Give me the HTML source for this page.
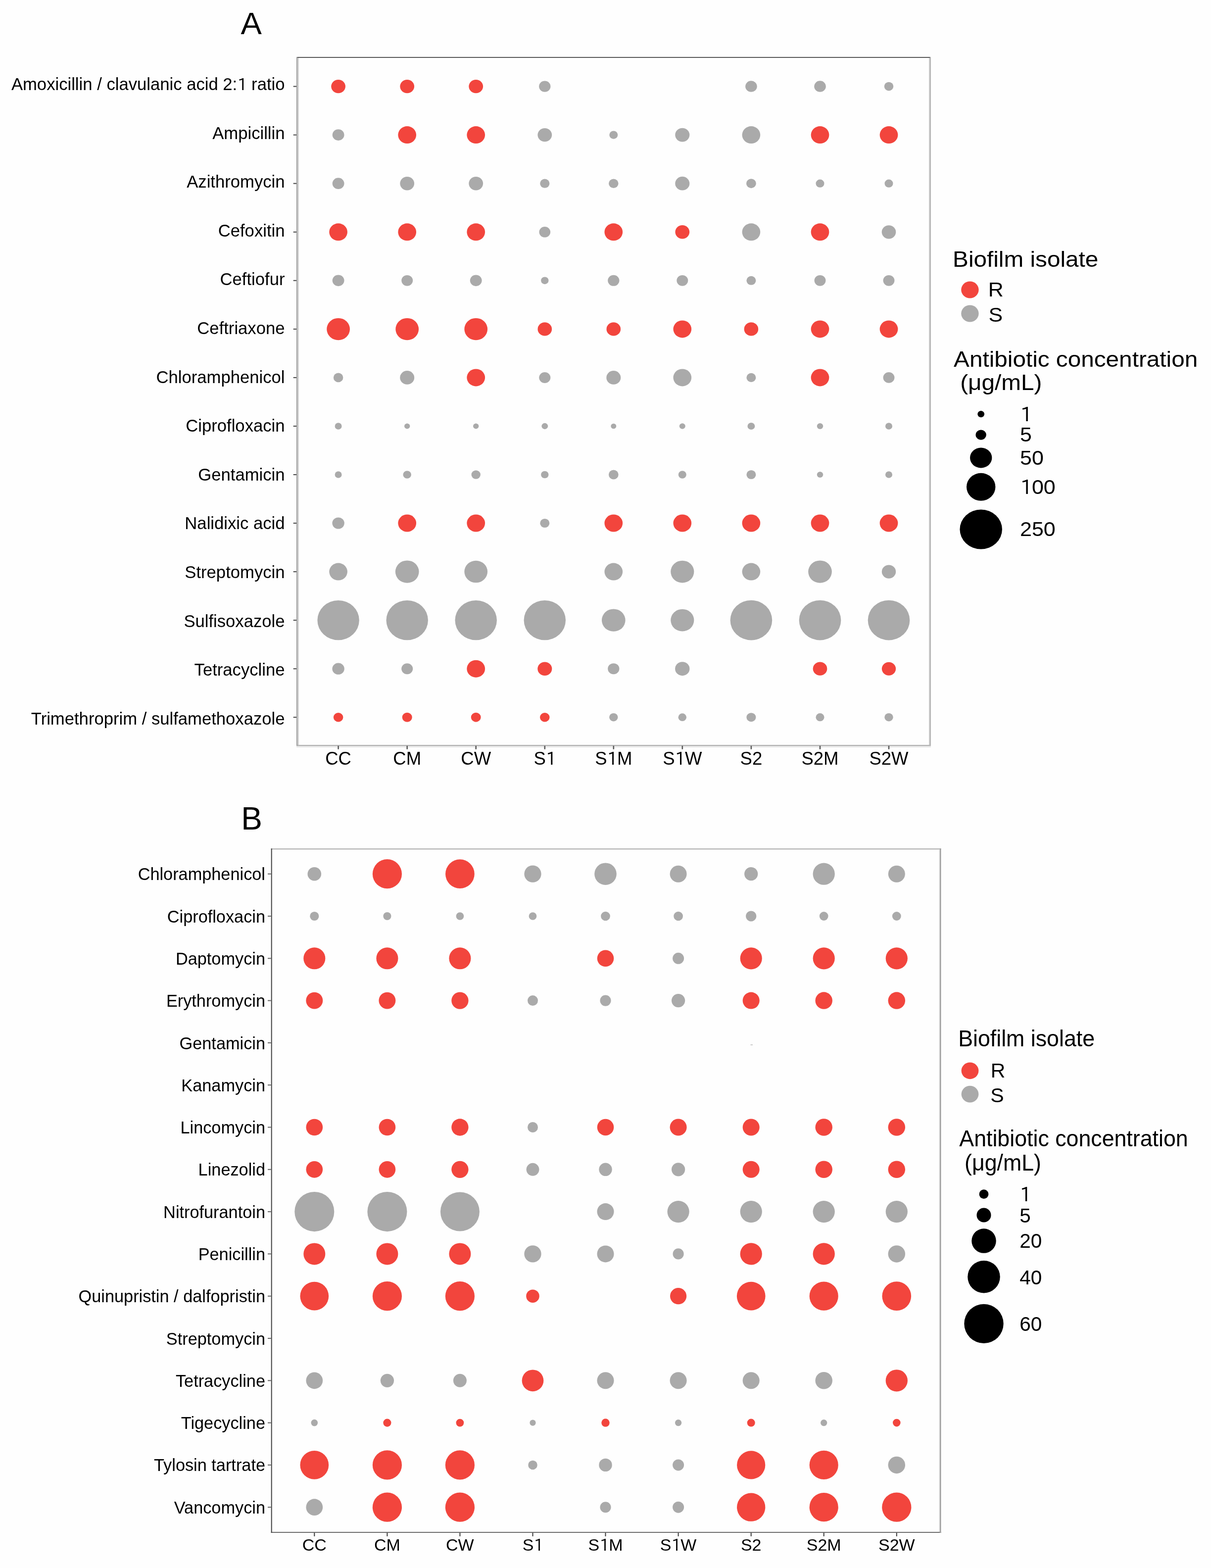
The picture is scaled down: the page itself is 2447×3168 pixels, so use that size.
<!DOCTYPE html>
<html><head><meta charset="utf-8"><title>Antibiotic concentration dot plot</title>
<style>
html,body{margin:0;padding:0;background:#fefefe;}
svg{display:block;}
text{font-family:"Liberation Sans",Arial,sans-serif;fill:#000;}
</style></head>
<body>
<svg width="2447" height="3168" viewBox="0 0 2447 3168">
<rect width="2447" height="3168" fill="#fefefe"/>
<ellipse cx="683.6" cy="174.6" rx="14.39" ry="13.71" fill="#F2453D"/>
<ellipse cx="822.7" cy="174.6" rx="14.39" ry="13.71" fill="#F2453D"/>
<ellipse cx="961.7" cy="174.6" rx="14.39" ry="13.71" fill="#F2453D"/>
<ellipse cx="1100.8" cy="174.6" rx="11.67" ry="11.12" fill="#AAAAAA"/>
<ellipse cx="1517.9" cy="174.6" rx="11.81" ry="11.25" fill="#AAAAAA"/>
<ellipse cx="1657.0" cy="174.6" rx="11.81" ry="11.25" fill="#AAAAAA"/>
<ellipse cx="1796.0" cy="174.6" rx="9.25" ry="8.81" fill="#AAAAAA"/>
<ellipse cx="683.6" cy="272.6" rx="11.91" ry="11.34" fill="#AAAAAA"/>
<ellipse cx="822.7" cy="272.6" rx="18.36" ry="17.48" fill="#F2453D"/>
<ellipse cx="961.7" cy="272.6" rx="18.36" ry="17.48" fill="#F2453D"/>
<ellipse cx="1100.8" cy="272.6" rx="14.39" ry="13.71" fill="#AAAAAA"/>
<ellipse cx="1239.8" cy="272.6" rx="8.50" ry="8.10" fill="#AAAAAA"/>
<ellipse cx="1378.8" cy="272.6" rx="14.54" ry="13.84" fill="#AAAAAA"/>
<ellipse cx="1517.9" cy="272.6" rx="18.36" ry="17.48" fill="#AAAAAA"/>
<ellipse cx="1657.0" cy="272.6" rx="18.36" ry="17.48" fill="#F2453D"/>
<ellipse cx="1796.0" cy="272.6" rx="18.36" ry="17.48" fill="#F2453D"/>
<ellipse cx="683.6" cy="370.7" rx="11.91" ry="11.34" fill="#AAAAAA"/>
<ellipse cx="822.7" cy="370.7" rx="14.39" ry="13.71" fill="#AAAAAA"/>
<ellipse cx="961.7" cy="370.7" rx="14.39" ry="13.71" fill="#AAAAAA"/>
<ellipse cx="1100.8" cy="370.7" rx="9.60" ry="9.14" fill="#AAAAAA"/>
<ellipse cx="1239.8" cy="370.7" rx="9.75" ry="9.29" fill="#AAAAAA"/>
<ellipse cx="1378.8" cy="370.7" rx="14.54" ry="13.84" fill="#AAAAAA"/>
<ellipse cx="1517.9" cy="370.7" rx="9.90" ry="9.43" fill="#AAAAAA"/>
<ellipse cx="1657.0" cy="370.7" rx="8.50" ry="8.10" fill="#AAAAAA"/>
<ellipse cx="1796.0" cy="370.7" rx="8.50" ry="8.10" fill="#AAAAAA"/>
<ellipse cx="683.6" cy="468.8" rx="18.36" ry="17.48" fill="#F2453D"/>
<ellipse cx="822.7" cy="468.8" rx="18.36" ry="17.48" fill="#F2453D"/>
<ellipse cx="961.7" cy="468.8" rx="18.36" ry="17.48" fill="#F2453D"/>
<ellipse cx="1100.8" cy="468.8" rx="11.34" ry="10.80" fill="#AAAAAA"/>
<ellipse cx="1239.8" cy="468.8" rx="18.36" ry="17.48" fill="#F2453D"/>
<ellipse cx="1378.8" cy="468.8" rx="14.39" ry="13.71" fill="#F2453D"/>
<ellipse cx="1517.9" cy="468.8" rx="18.36" ry="17.48" fill="#AAAAAA"/>
<ellipse cx="1657.0" cy="468.8" rx="18.36" ry="17.48" fill="#F2453D"/>
<ellipse cx="1796.0" cy="468.8" rx="14.30" ry="13.62" fill="#AAAAAA"/>
<ellipse cx="683.6" cy="566.8" rx="11.91" ry="11.34" fill="#AAAAAA"/>
<ellipse cx="822.7" cy="566.8" rx="11.43" ry="10.89" fill="#AAAAAA"/>
<ellipse cx="961.7" cy="566.8" rx="11.91" ry="11.34" fill="#AAAAAA"/>
<ellipse cx="1100.8" cy="566.8" rx="7.70" ry="7.33" fill="#AAAAAA"/>
<ellipse cx="1239.8" cy="566.8" rx="11.62" ry="11.07" fill="#AAAAAA"/>
<ellipse cx="1378.8" cy="566.8" rx="11.43" ry="10.89" fill="#AAAAAA"/>
<ellipse cx="1517.9" cy="566.8" rx="9.50" ry="9.05" fill="#AAAAAA"/>
<ellipse cx="1657.0" cy="566.8" rx="11.43" ry="10.89" fill="#AAAAAA"/>
<ellipse cx="1796.0" cy="566.8" rx="11.43" ry="10.89" fill="#AAAAAA"/>
<ellipse cx="683.6" cy="664.9" rx="23.37" ry="22.26" fill="#F2453D"/>
<ellipse cx="822.7" cy="664.9" rx="23.37" ry="22.26" fill="#F2453D"/>
<ellipse cx="961.7" cy="664.9" rx="23.37" ry="22.26" fill="#F2453D"/>
<ellipse cx="1100.8" cy="664.9" rx="14.30" ry="13.62" fill="#F2453D"/>
<ellipse cx="1239.8" cy="664.9" rx="14.30" ry="13.62" fill="#F2453D"/>
<ellipse cx="1378.8" cy="664.9" rx="18.36" ry="17.48" fill="#F2453D"/>
<ellipse cx="1517.9" cy="664.9" rx="14.30" ry="13.62" fill="#F2453D"/>
<ellipse cx="1657.0" cy="664.9" rx="18.36" ry="17.48" fill="#F2453D"/>
<ellipse cx="1796.0" cy="664.9" rx="18.36" ry="17.48" fill="#F2453D"/>
<ellipse cx="683.6" cy="762.9" rx="9.75" ry="9.29" fill="#AAAAAA"/>
<ellipse cx="822.7" cy="762.9" rx="14.49" ry="13.80" fill="#AAAAAA"/>
<ellipse cx="961.7" cy="762.9" rx="18.36" ry="17.48" fill="#F2453D"/>
<ellipse cx="1100.8" cy="762.9" rx="11.53" ry="10.98" fill="#AAAAAA"/>
<ellipse cx="1239.8" cy="762.9" rx="14.49" ry="13.80" fill="#AAAAAA"/>
<ellipse cx="1378.8" cy="762.9" rx="18.36" ry="17.48" fill="#AAAAAA"/>
<ellipse cx="1517.9" cy="762.9" rx="9.50" ry="9.05" fill="#AAAAAA"/>
<ellipse cx="1657.0" cy="762.9" rx="18.36" ry="17.48" fill="#F2453D"/>
<ellipse cx="1796.0" cy="762.9" rx="11.43" ry="10.89" fill="#AAAAAA"/>
<ellipse cx="683.6" cy="861.0" rx="7.00" ry="6.67" fill="#AAAAAA"/>
<ellipse cx="822.7" cy="861.0" rx="5.70" ry="5.43" fill="#AAAAAA"/>
<ellipse cx="961.7" cy="861.0" rx="5.70" ry="5.43" fill="#AAAAAA"/>
<ellipse cx="1100.8" cy="861.0" rx="6.45" ry="6.14" fill="#AAAAAA"/>
<ellipse cx="1239.8" cy="861.0" rx="5.50" ry="5.24" fill="#AAAAAA"/>
<ellipse cx="1378.8" cy="861.0" rx="6.05" ry="5.76" fill="#AAAAAA"/>
<ellipse cx="1517.9" cy="861.0" rx="7.45" ry="7.10" fill="#AAAAAA"/>
<ellipse cx="1657.0" cy="861.0" rx="6.25" ry="5.95" fill="#AAAAAA"/>
<ellipse cx="1796.0" cy="861.0" rx="7.05" ry="6.71" fill="#AAAAAA"/>
<ellipse cx="683.6" cy="959.0" rx="7.00" ry="6.67" fill="#AAAAAA"/>
<ellipse cx="822.7" cy="959.0" rx="8.25" ry="7.86" fill="#AAAAAA"/>
<ellipse cx="961.7" cy="959.0" rx="9.20" ry="8.76" fill="#AAAAAA"/>
<ellipse cx="1100.8" cy="959.0" rx="7.70" ry="7.33" fill="#AAAAAA"/>
<ellipse cx="1239.8" cy="959.0" rx="9.85" ry="9.38" fill="#AAAAAA"/>
<ellipse cx="1378.8" cy="959.0" rx="8.05" ry="7.67" fill="#AAAAAA"/>
<ellipse cx="1517.9" cy="959.0" rx="9.50" ry="9.05" fill="#AAAAAA"/>
<ellipse cx="1657.0" cy="959.0" rx="6.25" ry="5.95" fill="#AAAAAA"/>
<ellipse cx="1796.0" cy="959.0" rx="7.05" ry="6.71" fill="#AAAAAA"/>
<ellipse cx="683.6" cy="1057.0" rx="12.20" ry="11.62" fill="#AAAAAA"/>
<ellipse cx="822.7" cy="1057.0" rx="18.36" ry="17.48" fill="#F2453D"/>
<ellipse cx="961.7" cy="1057.0" rx="18.36" ry="17.48" fill="#F2453D"/>
<ellipse cx="1100.8" cy="1057.0" rx="9.55" ry="9.10" fill="#AAAAAA"/>
<ellipse cx="1239.8" cy="1057.0" rx="18.36" ry="17.48" fill="#F2453D"/>
<ellipse cx="1378.8" cy="1057.0" rx="18.36" ry="17.48" fill="#F2453D"/>
<ellipse cx="1517.9" cy="1057.0" rx="18.36" ry="17.48" fill="#F2453D"/>
<ellipse cx="1657.0" cy="1057.0" rx="18.36" ry="17.48" fill="#F2453D"/>
<ellipse cx="1796.0" cy="1057.0" rx="18.36" ry="17.48" fill="#F2453D"/>
<ellipse cx="683.6" cy="1155.1" rx="18.36" ry="17.48" fill="#AAAAAA"/>
<ellipse cx="822.7" cy="1155.1" rx="23.85" ry="22.71" fill="#AAAAAA"/>
<ellipse cx="961.7" cy="1155.1" rx="23.37" ry="22.26" fill="#AAAAAA"/>
<ellipse cx="1239.8" cy="1155.1" rx="18.36" ry="17.48" fill="#AAAAAA"/>
<ellipse cx="1378.8" cy="1155.1" rx="23.56" ry="22.44" fill="#AAAAAA"/>
<ellipse cx="1517.9" cy="1155.1" rx="18.36" ry="17.48" fill="#AAAAAA"/>
<ellipse cx="1657.0" cy="1155.1" rx="23.85" ry="22.71" fill="#AAAAAA"/>
<ellipse cx="1796.0" cy="1155.1" rx="14.20" ry="13.53" fill="#AAAAAA"/>
<ellipse cx="683.6" cy="1253.1" rx="42.23" ry="40.22" fill="#AAAAAA"/>
<ellipse cx="822.7" cy="1253.1" rx="42.23" ry="40.22" fill="#AAAAAA"/>
<ellipse cx="961.7" cy="1253.1" rx="42.23" ry="40.22" fill="#AAAAAA"/>
<ellipse cx="1100.8" cy="1253.1" rx="42.23" ry="40.22" fill="#AAAAAA"/>
<ellipse cx="1239.8" cy="1253.1" rx="23.85" ry="22.71" fill="#AAAAAA"/>
<ellipse cx="1378.8" cy="1253.1" rx="23.56" ry="22.44" fill="#AAAAAA"/>
<ellipse cx="1517.9" cy="1253.1" rx="42.33" ry="40.31" fill="#AAAAAA"/>
<ellipse cx="1657.0" cy="1253.1" rx="42.33" ry="40.31" fill="#AAAAAA"/>
<ellipse cx="1796.0" cy="1253.1" rx="42.33" ry="40.31" fill="#AAAAAA"/>
<ellipse cx="683.6" cy="1351.2" rx="12.20" ry="11.62" fill="#AAAAAA"/>
<ellipse cx="822.7" cy="1351.2" rx="11.53" ry="10.98" fill="#AAAAAA"/>
<ellipse cx="961.7" cy="1351.2" rx="18.36" ry="17.48" fill="#F2453D"/>
<ellipse cx="1100.8" cy="1351.2" rx="14.49" ry="13.80" fill="#F2453D"/>
<ellipse cx="1239.8" cy="1351.2" rx="11.62" ry="11.07" fill="#AAAAAA"/>
<ellipse cx="1378.8" cy="1351.2" rx="14.68" ry="13.98" fill="#AAAAAA"/>
<ellipse cx="1657.0" cy="1351.2" rx="14.30" ry="13.62" fill="#F2453D"/>
<ellipse cx="1796.0" cy="1351.2" rx="14.11" ry="13.43" fill="#F2453D"/>
<ellipse cx="683.6" cy="1449.2" rx="9.75" ry="9.29" fill="#F2453D"/>
<ellipse cx="822.7" cy="1449.2" rx="10.00" ry="9.52" fill="#F2453D"/>
<ellipse cx="961.7" cy="1449.2" rx="9.90" ry="9.43" fill="#F2453D"/>
<ellipse cx="1100.8" cy="1449.2" rx="9.75" ry="9.29" fill="#F2453D"/>
<ellipse cx="1239.8" cy="1449.2" rx="8.65" ry="8.24" fill="#AAAAAA"/>
<ellipse cx="1378.8" cy="1449.2" rx="8.25" ry="7.86" fill="#AAAAAA"/>
<ellipse cx="1517.9" cy="1449.2" rx="9.50" ry="9.05" fill="#AAAAAA"/>
<ellipse cx="1657.0" cy="1449.2" rx="8.50" ry="8.10" fill="#AAAAAA"/>
<ellipse cx="1796.0" cy="1449.2" rx="8.65" ry="8.24" fill="#AAAAAA"/>
<rect x="599" y="115" width="1282" height="2" fill="#5c5c5c"/>
<rect x="599" y="1505" width="1282" height="2" fill="#b0b0b0"/>
<rect x="599" y="1507" width="1282" height="3" fill="#e6e6e6"/>
<rect x="599" y="115" width="2" height="1392" fill="#9e9e9e"/>
<rect x="601" y="117" width="3" height="1388" fill="#d4d4d4"/>
<rect x="1877" y="117" width="2" height="1388" fill="#cdcdcd"/>
<rect x="1879" y="115" width="2" height="1392" fill="#b5b5b5"/>
<rect x="592.7" y="173.6" width="6.3" height="2" fill="#484848"/>
<text x="575.5" y="182.0" font-size="34.65" text-anchor="end">Amoxicillin / clavulanic acid 2:<tspan font-family="IPAPGothic,IPAGothic,'Liberation Sans',sans-serif" font-size="32.22" dx="0.42">1</tspan><tspan dx="-1.44"> ratio</tspan></text>
<rect x="592.7" y="271.6" width="6.3" height="2" fill="#484848"/>
<text x="575.5" y="280.6" font-size="34.65" text-anchor="end">Ampicillin</text>
<rect x="592.7" y="369.7" width="6.3" height="2" fill="#484848"/>
<text x="575.5" y="379.2" font-size="34.65" text-anchor="end">Azithromycin</text>
<rect x="592.7" y="467.8" width="6.3" height="2" fill="#484848"/>
<text x="575.5" y="477.8" font-size="34.65" text-anchor="end">Cefoxitin</text>
<rect x="592.7" y="565.8" width="6.3" height="2" fill="#484848"/>
<text x="575.5" y="576.4" font-size="34.65" text-anchor="end">Ceftiofur</text>
<rect x="592.7" y="663.9" width="6.3" height="2" fill="#484848"/>
<text x="575.5" y="675.0" font-size="34.65" text-anchor="end">Ceftriaxone</text>
<rect x="592.7" y="761.9" width="6.3" height="2" fill="#484848"/>
<text x="575.5" y="773.6" font-size="34.65" text-anchor="end">Chloramphenicol</text>
<rect x="592.7" y="860.0" width="6.3" height="2" fill="#484848"/>
<text x="575.5" y="872.2" font-size="34.65" text-anchor="end">Ciprofloxacin</text>
<rect x="592.7" y="958.0" width="6.3" height="2" fill="#484848"/>
<text x="575.5" y="970.8" font-size="34.65" text-anchor="end">Gentamicin</text>
<rect x="592.7" y="1056.0" width="6.3" height="2" fill="#484848"/>
<text x="575.5" y="1069.4" font-size="34.65" text-anchor="end">Nalidixic acid</text>
<rect x="592.7" y="1154.1" width="6.3" height="2" fill="#484848"/>
<text x="575.5" y="1168.0" font-size="34.65" text-anchor="end">Streptomycin</text>
<rect x="592.7" y="1252.1" width="6.3" height="2" fill="#484848"/>
<text x="575.5" y="1266.6" font-size="34.65" text-anchor="end">Sulfisoxazole</text>
<rect x="592.7" y="1350.2" width="6.3" height="2" fill="#484848"/>
<text x="575.5" y="1365.2" font-size="34.65" text-anchor="end">Tetracycline</text>
<rect x="592.7" y="1448.2" width="6.3" height="2" fill="#484848"/>
<text x="575.5" y="1463.8" font-size="34.65" text-anchor="end">Trimethroprim / sulfamethoxazole</text>
<rect x="682.3" y="1507" width="2.6" height="6.8" fill="#5a5a5a"/>
<text x="683.6" y="1545.2" font-size="36.5" text-anchor="middle">CC</text>
<rect x="821.4" y="1507" width="2.6" height="6.8" fill="#5a5a5a"/>
<text x="822.7" y="1545.2" font-size="36.5" text-anchor="middle">CM</text>
<rect x="960.4" y="1507" width="2.6" height="6.8" fill="#5a5a5a"/>
<text x="961.7" y="1545.2" font-size="36.5" text-anchor="middle">CW</text>
<rect x="1099.5" y="1507" width="2.6" height="6.8" fill="#5a5a5a"/>
<text x="1101.5" y="1545.2" font-size="36.5" text-anchor="middle">S<tspan font-family="IPAPGothic,IPAGothic,'Liberation Sans',sans-serif" font-size="33.95" dx="0.44">1</tspan></text>
<rect x="1238.5" y="1507" width="2.6" height="6.8" fill="#5a5a5a"/>
<text x="1239.8" y="1545.2" font-size="36.5" text-anchor="middle">S<tspan font-family="IPAPGothic,IPAGothic,'Liberation Sans',sans-serif" font-size="33.95" dx="0.44">1</tspan><tspan dx="-1.52">M</tspan></text>
<rect x="1377.5" y="1507" width="2.6" height="6.8" fill="#5a5a5a"/>
<text x="1378.8" y="1545.2" font-size="36.5" text-anchor="middle">S<tspan font-family="IPAPGothic,IPAGothic,'Liberation Sans',sans-serif" font-size="33.95" dx="0.44">1</tspan><tspan dx="-1.52">W</tspan></text>
<rect x="1516.6" y="1507" width="2.6" height="6.8" fill="#5a5a5a"/>
<text x="1517.9" y="1545.2" font-size="36.5" text-anchor="middle">S2</text>
<rect x="1655.7" y="1507" width="2.6" height="6.8" fill="#5a5a5a"/>
<text x="1657.0" y="1545.2" font-size="36.5" text-anchor="middle">S2M</text>
<rect x="1794.7" y="1507" width="2.6" height="6.8" fill="#5a5a5a"/>
<text x="1796.0" y="1545.2" font-size="36.5" text-anchor="middle">S2W</text>
<ellipse cx="635.3" cy="1765.7" rx="13.82" ry="13.82" fill="#AAAAAA"/>
<ellipse cx="782.4" cy="1765.7" rx="29.58" ry="29.58" fill="#F2453D"/>
<ellipse cx="929.4" cy="1765.7" rx="29.34" ry="29.34" fill="#F2453D"/>
<ellipse cx="1076.5" cy="1765.7" rx="17.16" ry="17.16" fill="#AAAAAA"/>
<ellipse cx="1223.5" cy="1765.7" rx="22.32" ry="22.32" fill="#AAAAAA"/>
<ellipse cx="1370.6" cy="1765.7" rx="17.02" ry="17.02" fill="#AAAAAA"/>
<ellipse cx="1517.7" cy="1765.7" rx="13.63" ry="13.63" fill="#AAAAAA"/>
<ellipse cx="1664.7" cy="1765.7" rx="22.13" ry="22.13" fill="#AAAAAA"/>
<ellipse cx="1811.8" cy="1765.7" rx="17.02" ry="17.02" fill="#AAAAAA"/>
<ellipse cx="635.3" cy="1851.0" rx="9.10" ry="9.10" fill="#AAAAAA"/>
<ellipse cx="782.4" cy="1851.0" rx="8.05" ry="8.05" fill="#AAAAAA"/>
<ellipse cx="929.4" cy="1851.0" rx="7.85" ry="7.85" fill="#AAAAAA"/>
<ellipse cx="1076.5" cy="1851.0" rx="7.85" ry="7.85" fill="#AAAAAA"/>
<ellipse cx="1223.5" cy="1851.0" rx="9.35" ry="9.35" fill="#AAAAAA"/>
<ellipse cx="1370.6" cy="1851.0" rx="9.35" ry="9.35" fill="#AAAAAA"/>
<ellipse cx="1517.7" cy="1851.0" rx="10.62" ry="10.62" fill="#AAAAAA"/>
<ellipse cx="1664.7" cy="1851.0" rx="8.90" ry="8.90" fill="#AAAAAA"/>
<ellipse cx="1811.8" cy="1851.0" rx="8.90" ry="8.90" fill="#AAAAAA"/>
<ellipse cx="635.3" cy="1936.3" rx="22.03" ry="22.03" fill="#F2453D"/>
<ellipse cx="782.4" cy="1936.3" rx="22.03" ry="22.03" fill="#F2453D"/>
<ellipse cx="929.4" cy="1936.3" rx="22.03" ry="22.03" fill="#F2453D"/>
<ellipse cx="1223.5" cy="1936.3" rx="16.78" ry="16.78" fill="#F2453D"/>
<ellipse cx="1370.6" cy="1936.3" rx="11.48" ry="11.48" fill="#AAAAAA"/>
<ellipse cx="1517.7" cy="1936.3" rx="22.08" ry="22.08" fill="#F2453D"/>
<ellipse cx="1664.7" cy="1936.3" rx="22.08" ry="22.08" fill="#F2453D"/>
<ellipse cx="1811.8" cy="1936.3" rx="22.08" ry="22.08" fill="#F2453D"/>
<ellipse cx="635.3" cy="2021.6" rx="16.97" ry="16.97" fill="#F2453D"/>
<ellipse cx="782.4" cy="2021.6" rx="16.97" ry="16.97" fill="#F2453D"/>
<ellipse cx="929.4" cy="2021.6" rx="17.16" ry="17.16" fill="#F2453D"/>
<ellipse cx="1076.5" cy="2021.6" rx="10.48" ry="10.48" fill="#AAAAAA"/>
<ellipse cx="1223.5" cy="2021.6" rx="11.05" ry="11.05" fill="#AAAAAA"/>
<ellipse cx="1370.6" cy="2021.6" rx="13.63" ry="13.63" fill="#AAAAAA"/>
<ellipse cx="1517.7" cy="2021.6" rx="17.02" ry="17.02" fill="#F2453D"/>
<ellipse cx="1664.7" cy="2021.6" rx="17.26" ry="17.26" fill="#F2453D"/>
<ellipse cx="1811.8" cy="2021.6" rx="17.26" ry="17.26" fill="#F2453D"/>
<ellipse cx="635.3" cy="2277.5" rx="16.83" ry="16.83" fill="#F2453D"/>
<ellipse cx="782.4" cy="2277.5" rx="16.83" ry="16.83" fill="#F2453D"/>
<ellipse cx="929.4" cy="2277.5" rx="17.16" ry="17.16" fill="#F2453D"/>
<ellipse cx="1076.5" cy="2277.5" rx="10.48" ry="10.48" fill="#AAAAAA"/>
<ellipse cx="1223.5" cy="2277.5" rx="16.78" ry="16.78" fill="#F2453D"/>
<ellipse cx="1370.6" cy="2277.5" rx="17.02" ry="17.02" fill="#F2453D"/>
<ellipse cx="1517.7" cy="2277.5" rx="17.02" ry="17.02" fill="#F2453D"/>
<ellipse cx="1664.7" cy="2277.5" rx="17.26" ry="17.26" fill="#F2453D"/>
<ellipse cx="1811.8" cy="2277.5" rx="17.26" ry="17.26" fill="#F2453D"/>
<ellipse cx="635.3" cy="2362.8" rx="16.83" ry="16.83" fill="#F2453D"/>
<ellipse cx="782.4" cy="2362.8" rx="16.83" ry="16.83" fill="#F2453D"/>
<ellipse cx="929.4" cy="2362.8" rx="17.16" ry="17.16" fill="#F2453D"/>
<ellipse cx="1076.5" cy="2362.8" rx="12.96" ry="12.96" fill="#AAAAAA"/>
<ellipse cx="1223.5" cy="2362.8" rx="13.20" ry="13.20" fill="#AAAAAA"/>
<ellipse cx="1370.6" cy="2362.8" rx="13.63" ry="13.63" fill="#AAAAAA"/>
<ellipse cx="1517.7" cy="2362.8" rx="17.02" ry="17.02" fill="#F2453D"/>
<ellipse cx="1664.7" cy="2362.8" rx="17.26" ry="17.26" fill="#F2453D"/>
<ellipse cx="1811.8" cy="2362.8" rx="17.26" ry="17.26" fill="#F2453D"/>
<ellipse cx="635.3" cy="2448.1" rx="40.03" ry="40.03" fill="#AAAAAA"/>
<ellipse cx="782.4" cy="2448.1" rx="40.03" ry="40.03" fill="#AAAAAA"/>
<ellipse cx="929.4" cy="2448.1" rx="39.51" ry="39.51" fill="#AAAAAA"/>
<ellipse cx="1223.5" cy="2448.1" rx="17.02" ry="17.02" fill="#AAAAAA"/>
<ellipse cx="1370.6" cy="2448.1" rx="22.13" ry="22.13" fill="#AAAAAA"/>
<ellipse cx="1517.7" cy="2448.1" rx="22.13" ry="22.13" fill="#AAAAAA"/>
<ellipse cx="1664.7" cy="2448.1" rx="22.13" ry="22.13" fill="#AAAAAA"/>
<ellipse cx="1811.8" cy="2448.1" rx="22.13" ry="22.13" fill="#AAAAAA"/>
<ellipse cx="635.3" cy="2533.4" rx="21.99" ry="21.99" fill="#F2453D"/>
<ellipse cx="782.4" cy="2533.4" rx="21.99" ry="21.99" fill="#F2453D"/>
<ellipse cx="929.4" cy="2533.4" rx="21.99" ry="21.99" fill="#F2453D"/>
<ellipse cx="1076.5" cy="2533.4" rx="17.16" ry="17.16" fill="#AAAAAA"/>
<ellipse cx="1223.5" cy="2533.4" rx="17.02" ry="17.02" fill="#AAAAAA"/>
<ellipse cx="1370.6" cy="2533.4" rx="11.05" ry="11.05" fill="#AAAAAA"/>
<ellipse cx="1517.7" cy="2533.4" rx="22.13" ry="22.13" fill="#F2453D"/>
<ellipse cx="1664.7" cy="2533.4" rx="22.13" ry="22.13" fill="#F2453D"/>
<ellipse cx="1811.8" cy="2533.4" rx="17.26" ry="17.26" fill="#AAAAAA"/>
<ellipse cx="635.3" cy="2618.7" rx="28.86" ry="28.86" fill="#F2453D"/>
<ellipse cx="782.4" cy="2618.7" rx="29.58" ry="29.58" fill="#F2453D"/>
<ellipse cx="929.4" cy="2618.7" rx="29.58" ry="29.58" fill="#F2453D"/>
<ellipse cx="1076.5" cy="2618.7" rx="13.29" ry="13.29" fill="#F2453D"/>
<ellipse cx="1370.6" cy="2618.7" rx="16.59" ry="16.59" fill="#F2453D"/>
<ellipse cx="1517.7" cy="2618.7" rx="28.86" ry="28.86" fill="#F2453D"/>
<ellipse cx="1664.7" cy="2618.7" rx="29.10" ry="29.10" fill="#F2453D"/>
<ellipse cx="1811.8" cy="2618.7" rx="29.34" ry="29.34" fill="#F2453D"/>
<ellipse cx="635.3" cy="2789.3" rx="16.83" ry="16.83" fill="#AAAAAA"/>
<ellipse cx="782.4" cy="2789.3" rx="13.63" ry="13.63" fill="#AAAAAA"/>
<ellipse cx="929.4" cy="2789.3" rx="13.49" ry="13.49" fill="#AAAAAA"/>
<ellipse cx="1076.5" cy="2789.3" rx="21.84" ry="21.84" fill="#F2453D"/>
<ellipse cx="1223.5" cy="2789.3" rx="17.02" ry="17.02" fill="#AAAAAA"/>
<ellipse cx="1370.6" cy="2789.3" rx="17.02" ry="17.02" fill="#AAAAAA"/>
<ellipse cx="1517.7" cy="2789.3" rx="17.02" ry="17.02" fill="#AAAAAA"/>
<ellipse cx="1664.7" cy="2789.3" rx="17.26" ry="17.26" fill="#AAAAAA"/>
<ellipse cx="1811.8" cy="2789.3" rx="22.13" ry="22.13" fill="#F2453D"/>
<ellipse cx="635.3" cy="2874.6" rx="6.80" ry="6.80" fill="#AAAAAA"/>
<ellipse cx="782.4" cy="2874.6" rx="8.05" ry="8.05" fill="#F2453D"/>
<ellipse cx="929.4" cy="2874.6" rx="7.85" ry="7.85" fill="#F2453D"/>
<ellipse cx="1076.5" cy="2874.6" rx="6.10" ry="6.10" fill="#AAAAAA"/>
<ellipse cx="1223.5" cy="2874.6" rx="8.25" ry="8.25" fill="#F2453D"/>
<ellipse cx="1370.6" cy="2874.6" rx="6.65" ry="6.65" fill="#AAAAAA"/>
<ellipse cx="1517.7" cy="2874.6" rx="8.00" ry="8.00" fill="#F2453D"/>
<ellipse cx="1664.7" cy="2874.6" rx="6.65" ry="6.65" fill="#AAAAAA"/>
<ellipse cx="1811.8" cy="2874.6" rx="7.80" ry="7.80" fill="#F2453D"/>
<ellipse cx="635.3" cy="2959.9" rx="28.86" ry="28.86" fill="#F2453D"/>
<ellipse cx="782.4" cy="2959.9" rx="29.58" ry="29.58" fill="#F2453D"/>
<ellipse cx="929.4" cy="2959.9" rx="29.58" ry="29.58" fill="#F2453D"/>
<ellipse cx="1076.5" cy="2959.9" rx="9.25" ry="9.25" fill="#AAAAAA"/>
<ellipse cx="1223.5" cy="2959.9" rx="13.20" ry="13.20" fill="#AAAAAA"/>
<ellipse cx="1370.6" cy="2959.9" rx="11.48" ry="11.48" fill="#AAAAAA"/>
<ellipse cx="1517.7" cy="2959.9" rx="28.62" ry="28.62" fill="#F2453D"/>
<ellipse cx="1664.7" cy="2959.9" rx="29.10" ry="29.10" fill="#F2453D"/>
<ellipse cx="1811.8" cy="2959.9" rx="17.26" ry="17.26" fill="#AAAAAA"/>
<ellipse cx="635.3" cy="3045.2" rx="16.83" ry="16.83" fill="#AAAAAA"/>
<ellipse cx="782.4" cy="3045.2" rx="29.58" ry="29.58" fill="#F2453D"/>
<ellipse cx="929.4" cy="3045.2" rx="29.58" ry="29.58" fill="#F2453D"/>
<ellipse cx="1223.5" cy="3045.2" rx="11.05" ry="11.05" fill="#AAAAAA"/>
<ellipse cx="1370.6" cy="3045.2" rx="11.48" ry="11.48" fill="#AAAAAA"/>
<ellipse cx="1517.7" cy="3045.2" rx="28.62" ry="28.62" fill="#F2453D"/>
<ellipse cx="1664.7" cy="3045.2" rx="29.10" ry="29.10" fill="#F2453D"/>
<ellipse cx="1811.8" cy="3045.2" rx="29.58" ry="29.58" fill="#F2453D"/>
<rect x="547.7" y="1714.3" width="1353.8" height="2" fill="#acacac"/>
<rect x="547.7" y="3095" width="1353.8" height="2" fill="#707070"/>
<rect x="547.7" y="1714.3" width="2" height="1382.7" fill="#444444"/>
<rect x="1897" y="1716.3" width="2" height="1378.7" fill="#ebebeb"/>
<rect x="1899" y="1714.3" width="2.5" height="1382.7" fill="#9e9e9e"/>
<rect x="541" y="1764.7" width="6.7" height="2" fill="#666666"/>
<text x="536.0" y="1778.4" font-size="34.3" text-anchor="end">Chloramphenicol</text>
<rect x="541" y="1850.0" width="6.7" height="2" fill="#666666"/>
<text x="536.0" y="1863.7" font-size="34.3" text-anchor="end">Ciprofloxacin</text>
<rect x="541" y="1935.3" width="6.7" height="2" fill="#666666"/>
<text x="536.0" y="1949.0" font-size="34.3" text-anchor="end">Daptomycin</text>
<rect x="541" y="2020.6" width="6.7" height="2" fill="#666666"/>
<text x="536.0" y="2034.2" font-size="34.3" text-anchor="end">Erythromycin</text>
<rect x="541" y="2105.9" width="6.7" height="2" fill="#666666"/>
<text x="536.0" y="2119.5" font-size="34.3" text-anchor="end">Gentamicin</text>
<rect x="541" y="2191.2" width="6.7" height="2" fill="#666666"/>
<text x="536.0" y="2204.8" font-size="34.3" text-anchor="end">Kanamycin</text>
<rect x="541" y="2276.5" width="6.7" height="2" fill="#666666"/>
<text x="536.0" y="2290.1" font-size="34.3" text-anchor="end">Lincomycin</text>
<rect x="541" y="2361.8" width="6.7" height="2" fill="#666666"/>
<text x="536.0" y="2375.4" font-size="34.3" text-anchor="end">Linezolid</text>
<rect x="541" y="2447.1" width="6.7" height="2" fill="#666666"/>
<text x="536.0" y="2460.6" font-size="34.3" text-anchor="end">Nitrofurantoin</text>
<rect x="541" y="2532.4" width="6.7" height="2" fill="#666666"/>
<text x="536.0" y="2545.9" font-size="34.3" text-anchor="end">Penicillin</text>
<rect x="541" y="2617.7" width="6.7" height="2" fill="#666666"/>
<text x="536.0" y="2631.2" font-size="34.3" text-anchor="end">Quinupristin / dalfopristin</text>
<rect x="541" y="2703.0" width="6.7" height="2" fill="#666666"/>
<text x="536.0" y="2716.5" font-size="34.3" text-anchor="end">Streptomycin</text>
<rect x="541" y="2788.3" width="6.7" height="2" fill="#666666"/>
<text x="536.0" y="2801.8" font-size="34.3" text-anchor="end">Tetracycline</text>
<rect x="541" y="2873.6" width="6.7" height="2" fill="#666666"/>
<text x="536.0" y="2887.0" font-size="34.3" text-anchor="end">Tigecycline</text>
<rect x="541" y="2958.9" width="6.7" height="2" fill="#666666"/>
<text x="536.0" y="2972.3" font-size="34.3" text-anchor="end">Tylosin tartrate</text>
<rect x="541" y="3044.2" width="6.7" height="2" fill="#666666"/>
<text x="536.0" y="3057.6" font-size="34.3" text-anchor="end">Vancomycin</text>
<rect x="634.3" y="3097" width="2" height="7.0" fill="#3c3c3c"/>
<text x="635.3" y="3132.9" font-size="34.0" text-anchor="middle">CC</text>
<rect x="781.4" y="3097" width="2" height="7.0" fill="#3c3c3c"/>
<text x="782.4" y="3132.9" font-size="34.0" text-anchor="middle">CM</text>
<rect x="928.4" y="3097" width="2" height="7.0" fill="#3c3c3c"/>
<text x="929.4" y="3132.9" font-size="34.0" text-anchor="middle">CW</text>
<rect x="1075.5" y="3097" width="2" height="7.0" fill="#3c3c3c"/>
<text x="1077.2" y="3132.9" font-size="34.0" text-anchor="middle">S<tspan font-family="IPAPGothic,IPAGothic,'Liberation Sans',sans-serif" font-size="31.62" dx="0.41">1</tspan></text>
<rect x="1222.5" y="3097" width="2" height="7.0" fill="#3c3c3c"/>
<text x="1223.5" y="3132.9" font-size="34.0" text-anchor="middle">S<tspan font-family="IPAPGothic,IPAGothic,'Liberation Sans',sans-serif" font-size="31.62" dx="0.41">1</tspan><tspan dx="-1.42">M</tspan></text>
<rect x="1369.6" y="3097" width="2" height="7.0" fill="#3c3c3c"/>
<text x="1370.6" y="3132.9" font-size="34.0" text-anchor="middle">S<tspan font-family="IPAPGothic,IPAGothic,'Liberation Sans',sans-serif" font-size="31.62" dx="0.41">1</tspan><tspan dx="-1.42">W</tspan></text>
<rect x="1516.7" y="3097" width="2" height="7.0" fill="#3c3c3c"/>
<text x="1517.7" y="3132.9" font-size="34.0" text-anchor="middle">S2</text>
<rect x="1663.7" y="3097" width="2" height="7.0" fill="#3c3c3c"/>
<text x="1664.7" y="3132.9" font-size="34.0" text-anchor="middle">S2M</text>
<rect x="1810.8" y="3097" width="2" height="7.0" fill="#3c3c3c"/>
<text x="1811.8" y="3132.9" font-size="34.0" text-anchor="middle">S2W</text>
<rect x="1516.5" y="2110" width="4.5" height="2" fill="#cccccc"/>
<text x="486.5" y="69.3" font-size="63.5" style="stroke:none">A</text>
<text x="487.3" y="1676.2" font-size="64" style="stroke:none">B</text>
<text transform="translate(1925.1 538.8) scale(1.06 1)" font-size="45">Biofilm isolate</text>
<text transform="translate(1927.1 741.0) scale(1.06 1)" font-size="45">Antibiotic concentration</text>
<text transform="translate(1940.2 788.4) scale(1.06 1)" font-size="45">(μg/mL)</text>
<ellipse cx="1959.9" cy="585.5" rx="17.7" ry="16.95" fill="#F2453D"/>
<ellipse cx="1959.9" cy="633.5" rx="17.7" ry="16.95" fill="#AAAAAA"/>
<text transform="translate(1996.8 599.4) scale(1.06 1)" font-size="40.5">R</text>
<text transform="translate(1997.5 649.5) scale(1.06 1)" font-size="40.5">S</text>
<ellipse cx="1982.2" cy="836.6" rx="6.90" ry="6.60" fill="#000"/>
<text transform="translate(2061.0 850.6) scale(1.055 1)" font-size="40.8"><tspan font-family="IPAPGothic,IPAGothic,'Liberation Sans',sans-serif" font-size="37.94" dx="0.49">1</tspan></text>
<ellipse cx="1982.2" cy="878.6" rx="10.70" ry="10.10" fill="#000"/>
<text transform="translate(2061.0 892.4) scale(1.055 1)" font-size="40.8">5</text>
<ellipse cx="1982.2" cy="924.9" rx="22.15" ry="20.50" fill="#000"/>
<text transform="translate(2061.0 938.6) scale(1.055 1)" font-size="40.8">50</text>
<ellipse cx="1982.2" cy="983.8" rx="29.20" ry="28.00" fill="#000"/>
<text transform="translate(2061.0 997.8) scale(1.055 1)" font-size="40.8"><tspan font-family="IPAPGothic,IPAGothic,'Liberation Sans',sans-serif" font-size="37.94" dx="0.49">1</tspan><tspan dx="-1.70">00</tspan></text>
<ellipse cx="1982.2" cy="1069.5" rx="42.75" ry="40.00" fill="#000"/>
<text transform="translate(2061.0 1083.0) scale(1.055 1)" font-size="40.8">250</text>
<text transform="translate(1936.2 2113.6) scale(0.962 1)" font-size="46.5">Biofilm isolate</text>
<text transform="translate(1938.3 2316.2) scale(0.962 1)" font-size="46.5">Antibiotic concentration</text>
<text transform="translate(1949.0 2364.8) scale(0.962 1)" font-size="46.5">(μg/mL)</text>
<ellipse cx="1960.0" cy="2163.3" rx="17.4" ry="16.85" fill="#F2453D"/>
<ellipse cx="1960.0" cy="2210.6" rx="17.4" ry="16.85" fill="#AAAAAA"/>
<text x="2001.7" y="2176.8" font-size="41">R</text>
<text x="2001.2" y="2227.2" font-size="41">S</text>
<ellipse cx="1988.0" cy="2412.7" rx="9.40" ry="9.40" fill="#000"/>
<text x="2060.3" y="2426.7" font-size="40.6"><tspan font-family="IPAPGothic,IPAGothic,'Liberation Sans',sans-serif" font-size="37.76" dx="0.49">1</tspan></text>
<ellipse cx="1988.0" cy="2455.0" rx="14.50" ry="14.50" fill="#000"/>
<text x="2060.3" y="2469.7" font-size="40.6">5</text>
<ellipse cx="1988.0" cy="2507.1" rx="24.75" ry="24.75" fill="#000"/>
<text x="2060.3" y="2520.8" font-size="40.6">20</text>
<ellipse cx="1988.0" cy="2579.7" rx="32.75" ry="32.75" fill="#000"/>
<text x="2060.3" y="2595.1" font-size="40.6">40</text>
<ellipse cx="1988.0" cy="2674.4" rx="39.70" ry="39.70" fill="#000"/>
<text x="2060.3" y="2688.6" font-size="40.6">60</text>
</svg>
</body></html>
